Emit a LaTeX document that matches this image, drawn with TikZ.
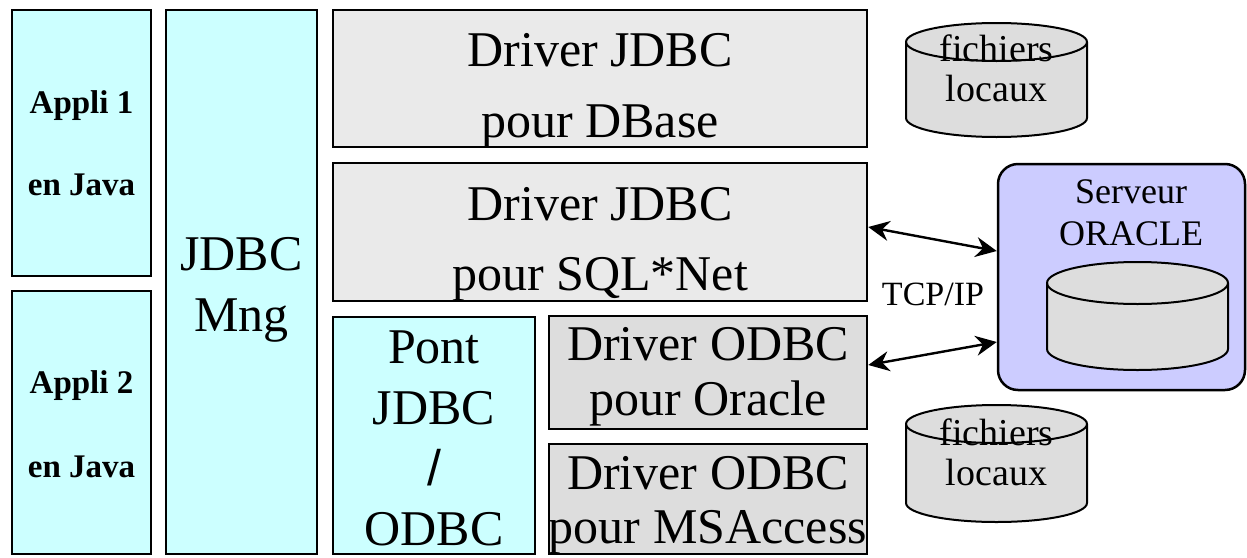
\documentclass[tikz,border=0pt]{standalone}
\usepackage{fontspec}
\setmainfont{Liberation Serif}
\newfontfamily\tms{Liberation Serif}
\newfontfamily\sansslash{Liberation Sans}
\usetikzlibrary{arrows.meta}
\definecolor{cyanfill}{HTML}{CCFFFF}
\definecolor{jdbcgray}{HTML}{EAEAEA}
\definecolor{odbcgray}{HTML}{DDDDDD}
\definecolor{cylgray}{HTML}{DDDDDD}
\definecolor{srvfill}{HTML}{CCCCFF}
\tikzset{
  box/.style={draw, line width=2.5pt, rectangle, inner sep=0pt},
  cyanbox/.style={box, fill=cyanfill},
  jdbcbox/.style={box, fill=jdbcgray},
  odbcbox/.style={box, fill=odbcgray},
  srvbox/.style={draw, line width=2.5pt, fill=srvfill, rounded corners=20pt, inner sep=0pt},
  big/.style={font=\tms\fontsize{50}{60}\selectfont, anchor=base, inner sep=0pt},
  appl/.style={font=\tms\fontsize{33}{40}\selectfont\bfseries, anchor=base, inner sep=0pt},
  small/.style={font=\tms\fontsize{38}{44}\selectfont, anchor=base, inner sep=0pt},
  mid/.style={font=\tms\fontsize{36}{42}\selectfont, anchor=base, inner sep=0pt},
  cyl/.style={draw, line width=2pt, fill=cylgray},
  link/.style={line width=2.4pt, {Stealth[length=21pt,width=20pt,inset=7pt]}-{Stealth[length=21pt,width=20pt,inset=7pt]}}
}
\begin{document}
\begin{tikzpicture}[x=1pt,y=-1pt]
\useasboundingbox (0,0) rectangle (1247,557);
% boxes
\node[cyanbox, minimum width=139pt, minimum height=266pt] (app1) at (81.5,143) {};
\node[cyanbox, minimum width=139pt, minimum height=263pt] (app2) at (81.5,422.5) {};
\node[cyanbox, minimum width=151pt, minimum height=544pt] (mng) at (241.5,282) {};
\node[jdbcbox, minimum width=534pt, minimum height=137pt] (dbase) at (600,78.5) {};
\node[jdbcbox, minimum width=534pt, minimum height=138pt] (sql) at (600,232) {};
\node[cyanbox, minimum width=202pt, minimum height=237pt] (pont) at (434,435.5) {};
\node[odbcbox, minimum width=318pt, minimum height=113pt] (ora) at (708,372.5) {};
\node[odbcbox, minimum width=318pt, minimum height=110pt] (msa) at (708,499) {};
\node[srvbox, minimum width=247pt, minimum height=226pt] (srv) at (1121.5,277) {};
% texts
\node[appl] (t1) at (81.5,113) {Appli 1};
\node[appl] (t2) at (81.5,195) {en Java};
\node[appl] (t3) at (81.5,393) {Appli 2};
\node[appl] (t4) at (81.5,477) {en Java};
\node[big] (t5) at (241.5,270) {JDBC};
\node[big] (t6) at (241.5,331) {Mng};
\node[big] (t7) at (600,66) {Driver JDBC};
\node[big] (t8) at (600,137) {pour DBase};
\node[big] (t9) at (600,220) {Driver JDBC};
\node[big] (t10) at (600,290) {pour SQL*Net};
\node[big] (t11) at (434,363) {Pont};
\node[big] (t12) at (434,424) {JDBC};
\node[big, font=\sansslash\fontsize{50}{60}\selectfont] (t13) at (434,485) {/};
\node[big] (t14) at (434,545) {ODBC};
\node[big] (t15) at (708,360) {Driver ODBC};
\node[big] (t16) at (708,415) {pour Oracle};
\node[big] (t17) at (708,489) {Driver ODBC};
\node[big] (t18) at (708,543) {pour MSAccess};
% cylinders
\draw[cyl] (906,42) -- (906,118) arc[start angle=180, end angle=0, x radius=90.5, y radius=19] -- (1087,42) arc[start angle=0, end angle=-180, x radius=90.5, y radius=19] -- cycle;
\draw[line width=2pt] (906,42) arc[start angle=180, end angle=0, x radius=90.5, y radius=19];
\node[small] (c1a) at (996.5,61) {fichiers};
\node[small] (c1b) at (996.5,101) {locaux};
\draw[cyl] (906,424) -- (906,503) arc[start angle=180, end angle=0, x radius=90.5, y radius=19] -- (1087,424) arc[start angle=0, end angle=-180, x radius=90.5, y radius=19] -- cycle;
\draw[line width=2pt] (906,424) arc[start angle=180, end angle=0, x radius=90.5, y radius=19];
\node[small] (c2a) at (996.5,445) {fichiers};
\node[small] (c2b) at (996.5,485) {locaux};
\draw[cyl] (1047,283) -- (1047,349) arc[start angle=180, end angle=0, x radius=90.5, y radius=21] -- (1228,283) arc[start angle=0, end angle=-180, x radius=90.5, y radius=21] -- cycle;
\draw[line width=2pt] (1047,283) arc[start angle=180, end angle=0, x radius=90.5, y radius=21];
\node[mid] (s1) at (1131,203) {Serveur};
\node[mid] (s2) at (1131,245) {ORACLE};
% connectors
\node[mid, font=\tms\fontsize{34}{40}\selectfont] (tcp) at (933,305) {TCP/IP};
\draw[link] ([yshift=5pt]sql.east) -- ([yshift=26pt]srv.west);
\draw[link] ([yshift=7.5pt]ora.east) -- ([yshift=-65pt]srv.west);
\end{tikzpicture}
\end{document}
